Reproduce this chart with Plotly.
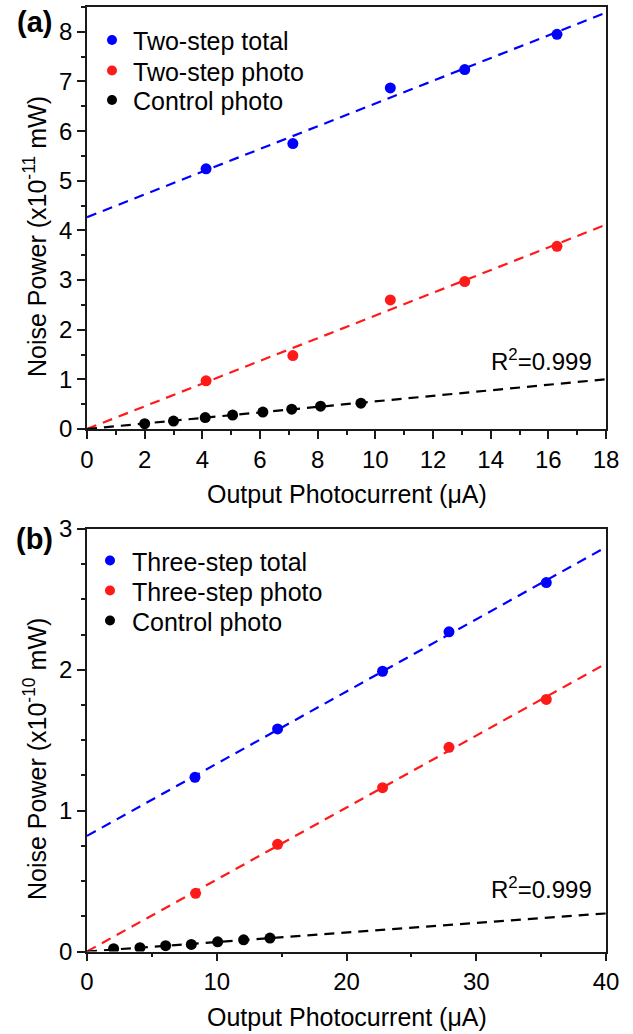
import numpy as np
import plotly.graph_objects as go

# ---------------- data: panel (a) ----------------
a_total_x = [4.13, 7.14, 10.52, 13.10, 16.30]
a_total_y = [5.24, 5.75, 6.87, 7.24, 7.95]
a_photo_x = [4.13, 7.14, 10.52, 13.10, 16.30]
a_photo_y = [0.97, 1.48, 2.60, 2.97, 3.68]
a_ctrl_x = [2.0, 3.0, 4.1, 5.05, 6.1, 7.1, 8.1, 9.5]
a_ctrl_y = [0.107, 0.16, 0.23, 0.28, 0.34, 0.40, 0.46, 0.52]
a_fit_x = [0, 18]

# ---------------- data: panel (b) ----------------
b_total_x = [8.32, 14.69, 22.78, 27.90, 35.40]
b_total_y = [1.237, 1.58, 1.99, 2.27, 2.62]
b_photo_x = [8.37, 14.69, 22.78, 27.90, 35.40]
b_photo_y = [0.413, 0.761, 1.163, 1.45, 1.79]
b_ctrl_x = [2.05, 4.08, 6.06, 8.04, 10.07, 12.07, 14.10]
b_ctrl_y = [0.020, 0.027, 0.041, 0.050, 0.069, 0.083, 0.095]
b_fit_x = [0, 40]

a_names = ["Two-step total", "Two-step photo", "Control photo"]
b_names = ["Three-step total", "Three-step photo", "Control photo"]
colors = ["#0000FF", "#FF1A1A", "#000000"]

FONT = "Arial, Liberation Sans, sans-serif"
W, H = 633, 1034


def fit_free(x, y):
    k, b = np.polyfit(x, y, 1)
    return k, b


def fit_origin(x, y):
    x = np.asarray(x); y = np.asarray(y)
    return float((x * y).sum() / (x * x).sum()), 0.0


fig = go.Figure()


def add_panel(xs, ys, fits, names, fitx, xa, ya):
    for i, (x, y, fitter) in enumerate(zip(xs, ys, fits)):
        k, b = fitter(x, y)
        fx = np.array(fitx, dtype=float)
        fig.add_trace(go.Scatter(x=fx, y=k * fx + b, mode="lines",
                                 line=dict(color=colors[i], width=2.2, dash="10px,7px"),
                                 showlegend=False, xaxis=xa, yaxis=ya, hoverinfo="skip"))
    for i, (x, y, nm) in enumerate(zip(xs, ys, names)):
        fig.add_trace(go.Scatter(x=x, y=y, mode="markers", name=nm,
                                 marker=dict(color=colors[i], size=11),
                                 showlegend=False, xaxis=xa, yaxis=ya))


add_panel([a_total_x, a_photo_x, a_ctrl_x], [a_total_y, a_photo_y, a_ctrl_y],
          [fit_free, fit_origin, fit_origin], a_names, a_fit_x, "x", "y")
add_panel([b_total_x, b_photo_x, b_ctrl_x], [b_total_y, b_photo_y, b_ctrl_y],
          [fit_free, fit_origin, fit_origin], b_names, b_fit_x, "x2", "y2")

xdom = [87 / W, 606 / W]
ydom_a = [1 - 429 / H, 1 - 7 / H]
ydom_b = [1 - 951.5 / H, 1 - 529 / H]

TICK = "#1a1a1a"
axis_common = dict(showline=True, linecolor=TICK, linewidth=1.6, mirror=True,
                   ticks="outside", ticklen=8, tickwidth=1.5, tickcolor=TICK,
                   showgrid=False, zeroline=False, automargin=False,
                   tickfont=dict(family=FONT, size=24, color="black"))
minor_common = dict(ticklen=4, tickwidth=1.5, tickcolor=TICK, ticks="outside")

fig.update_layout(
    width=W, height=H, margin=dict(l=0, r=0, t=0, b=0, autoexpand=False),
    plot_bgcolor="white", paper_bgcolor="white",
    font=dict(family=FONT, color="black"),
    showlegend=False,
    xaxis=dict(domain=xdom, anchor="y", range=[0, 18], dtick=2, tick0=0,
               minor=dict(dtick=1, **minor_common), **axis_common),
    yaxis=dict(domain=ydom_a, anchor="x", range=[0, 8.5], dtick=1, tick0=0,
               minor=dict(dtick=0.5, **minor_common), **axis_common),
    xaxis2=dict(domain=xdom, anchor="y2", range=[0, 40], dtick=10, tick0=0,
                minor=dict(dtick=5, **minor_common), **axis_common),
    yaxis2=dict(domain=ydom_b, anchor="x2", range=[0, 3], dtick=1, tick0=0,
                minor=dict(dtick=0.25, **minor_common), **axis_common),
)


def ann(text, x, y, size=24, angle=0, xanchor="center"):
    fig.add_annotation(xref="paper", yref="paper", showarrow=False,
                       x=x / W, y=1 - y / H, xanchor=xanchor, yanchor="middle",
                       textangle=angle, text=text,
                       font=dict(family=FONT, size=size, color="black"))


ann("<b>(a)</b>", 34, 22, size=29)
ann("<b>(b)</b>", 34, 539, size=29)
ann("Output Photocurrent (μA)", 346.5, 494, size=25)
ann("Output Photocurrent (μA)", 346.5, 1017, size=25)
ann("Noise Power (x10<sup>-11</sup> mW)", 35, 237, size=25, angle=-90)
ann("Noise Power (x10<sup>-10</sup> mW)", 35, 759, size=25, angle=-90)
ann("R<sup>2</sup>=0.999", 594, 360, xanchor="right")
ann("R<sup>2</sup>=0.999", 594, 888, xanchor="right")


# legends (drawn as keys: dot + label)
def legend(names, mx, ys, tx):
    r = 5
    for nm, c, yy in zip(names, colors, ys):
        fig.add_shape(type="circle", xref="paper", yref="paper",
                      x0=(mx - r) / W, x1=(mx + r) / W,
                      y0=1 - (yy + r) / H, y1=1 - (yy - r) / H,
                      fillcolor=c, line=dict(color=c, width=0))
        ann(nm, tx, yy + 1, size=25, xanchor="left")


legend(a_names, 112, [40, 70.5, 100], 131)
legend(b_names, 110, [560.5, 590.5, 620.5], 130)

fig.write_html("out.html")
